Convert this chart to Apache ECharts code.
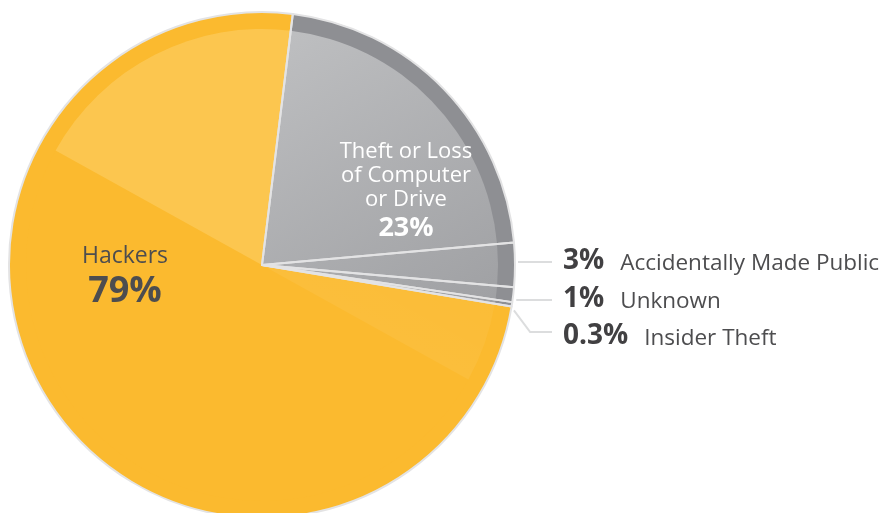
<!DOCTYPE html>
<html>
<head>
<meta charset="utf-8">
<title>Data breach causes</title>
<script src="https://cdn.jsdelivr.net/npm/echarts@6/dist/echarts.min.js"></script>
<style>
  html, body { margin: 0; padding: 0; background: #ffffff; }
  #chart { width: 885px; height: 513px; }
</style>
</head>
<body>
<div id="chart"></div>
<script>
// Breach causes, clockwise from the top of the pie
const categories = ['Theft or Loss\nof Computer\nor Drive', 'Accidentally Made Public', 'Unknown', 'Insider Theft', 'Hackers'];
const values = [23, 3, 1, 0.3, 79];

// Slice fills: outer rim colour and inner face colour
const rimColors = ['#8e8f93', '#8e8f93', '#8e8f93', '#8e8f93', '#fbba2f'];

const CX = 262, CY = 265, R = 253, R_INNER = 236;
const START_ANGLE = 83;   // echarts convention: degrees counter-clockwise from 3 o'clock

// Inner face of the grey slices: soft light-to-dark sheen
const greyFace = {
  type: 'linear', global: true,
  x: 300, y: 30, x2: 470, y2: 310,
  colorStops: [
    { offset: 0, color: '#bdbec0' },
    { offset: 1, color: '#a0a1a4' }
  ]
};
const faceColors = [greyFace, greyFace, greyFace, greyFace, '#fbba2f'];

// Glossy highlight on the orange face (angles on the canvas, clockwise from 3 o'clock)
const deg = Math.PI / 180;
const total = values.reduce((a, b) => a + b, 0);
const orangeEnd = (360 - START_ANGLE) * deg;                        // where the orange slice ends
const orangeStart = (-START_ANGLE + (total - values[4]) / total * 360) * deg;
const sheenEdge = 209 * deg;                                       // edge of the lit wedge
const nx = Math.cos(sheenEdge - Math.PI / 2), ny = Math.sin(sheenEdge - Math.PI / 2);
const sheenFill = {
  type: 'linear', global: true,
  x: CX, y: CY, x2: CX + nx * R_INNER, y2: CY + ny * R_INNER,
  colorStops: [
    { offset: 0, color: '#fcc64f' },
    { offset: 1, color: '#fcd77e' }
  ]
};
const faintFill = {
  type: 'linear', global: true,
  x: CX, y: CY, x2: CX - nx * R_INNER, y2: CY - ny * R_INNER,
  colorStops: [
    { offset: 0, color: 'rgba(255,255,255,0.06)' },
    { offset: 1, color: 'rgba(255,255,255,0.0)' }
  ]
};

// Rows for the callout labels on the right
const calloutX = 563, lineEndX = 552;
const calloutY = [261, 299, 336];
const leaderY = [262, 300, 332];

const chart = echarts.init(document.getElementById('chart'), null, { renderer: 'canvas' });

const font = '"Open Sans", "Noto Sans", sans-serif';
const textDark = '#4d4d4f';

const pieData = (colors) => categories.map((name, i) => ({
  name: name, value: values[i], itemStyle: { color: colors[i] }
}));

const labelData = categories.map((name, i) => {
  const item = { name: name, value: values[i] };
  if (i === 0) {
    item.label = {
      position: 'inside',
      formatter: name.split('\n').map(s => '{n|' + s + '}').join('\n') + '\n{v|' + values[i] + '%}',
      rich: {
        n: { fontFamily: font, fontSize: 22, lineHeight: 24, color: '#ffffff', align: 'center' },
        v: { fontFamily: font, fontSize: 27, fontWeight: 'bold', lineHeight: 32, color: '#ffffff', align: 'center' }
      }
    };
    item.labelLine = { show: false };
  } else if (i === 4) {
    item.label = {
      position: 'inside',
      formatter: '{n|' + name + '}\n{v|' + values[i] + '%}',
      rich: {
        n: { fontFamily: font, fontSize: 23, lineHeight: 32, color: textDark, align: 'center' },
        v: { fontFamily: font, fontSize: 36, fontWeight: 'bold', lineHeight: 40, color: textDark, align: 'center' }
      }
    };
    item.labelLine = { show: false };
  } else {
    item.label = {
      position: 'outside',
      formatter: '{v|' + values[i] + '%}{n|' + name + '}',
      rich: {
        v: { fontFamily: font, fontSize: 28, fontWeight: 'bold', color: '#414042', verticalAlign: 'bottom' },
        n: { fontFamily: font, fontSize: 22.5, color: textDark, padding: [0, 0, 0, 16], verticalAlign: 'bottom' }
      }
    };
    item.labelLine = { show: true, lineStyle: { color: '#dcddde', width: 2 } };
  }
  return item;
});

const common = {
  type: 'pie',
  center: [CX, CY],
  startAngle: START_ANGLE,
  clockwise: true,
  avoidLabelOverlap: false,
  animation: false,
  emphasis: { disabled: true }
};

chart.setOption({
  backgroundColor: '#ffffff',
  graphic: [
    {
      type: 'sector', z: 3, silent: true,
      shape: { cx: CX, cy: CY, r: R_INNER, r0: 0, startAngle: sheenEdge, endAngle: orangeEnd, clockwise: true },
      style: { fill: sheenFill }
    },
    {
      type: 'sector', z: 3, silent: true,
      shape: { cx: CX, cy: CY, r: R_INNER, r0: 0, startAngle: orangeStart, endAngle: sheenEdge - Math.PI, clockwise: true },
      style: { fill: faintFill }
    }
  ],
  series: [
    Object.assign({}, common, {
      name: 'rim', radius: [0, R], silent: true, z: 1,
      label: { show: false }, labelLine: { show: false },
      data: pieData(rimColors)
    }),
    Object.assign({}, common, {
      name: 'face', radius: [0, R_INNER], silent: true, z: 2,
      label: { show: false }, labelLine: { show: false },
      data: pieData(faceColors)
    }),
    Object.assign({}, common, {
      name: 'Breach causes', radius: [0, R], z: 4,
      itemStyle: { color: 'rgba(0,0,0,0)', borderColor: '#e3e3e4', borderWidth: 2 },
      label: { show: true },
      labelLine: { show: true, length: 10, length2: 30 },
      labelLayout: function (p) {
        const i = p.dataIndex;
        if (i === 0) return { x: 406, y: 192, align: 'center', verticalAlign: 'middle' };
        if (i === 4) return { x: 125, y: 276, align: 'center', verticalAlign: 'middle' };
        const row = i - 1;
        const start = p.labelLinePoints ? p.labelLinePoints[0] : [CX + R, CY];
        const ly = leaderY[row];
        let pts;
        if (Math.abs(ly - start[1]) < 8) {
          pts = [[start[0] + 3, ly], [lineEndX, ly]];
        } else {
          const sx = start[0] + 2, sy = start[1] + 6;
          const d = ly - sy;
          pts = [[sx, sy], [sx + d * 0.75, ly], [lineEndX, ly]];
        }
        return {
          x: calloutX, y: calloutY[row],
          align: 'left', verticalAlign: 'middle',
          labelLinePoints: pts
        };
      },
      data: labelData
    })
  ]
});
</script>
</body>
</html>
